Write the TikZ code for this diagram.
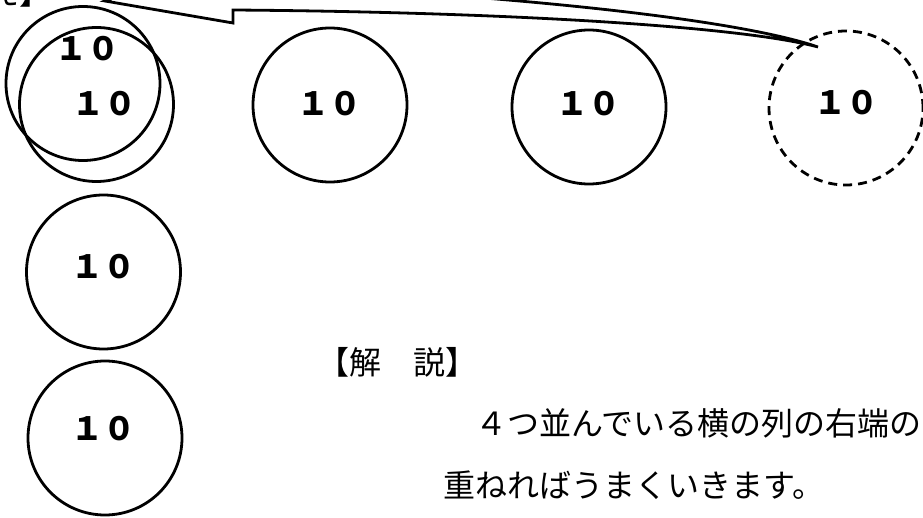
\documentclass[tikz,border=0pt]{standalone}
\usepackage{fontspec}
\newfontfamily\jp{Noto Sans CJK JP}
\begin{document}
\begin{tikzpicture}[x=1pt,y=-1pt,
  ring/.style={circle, draw, line width=2.8pt, minimum size=154pt, inner sep=0pt},
  dring/.style={ring, dash pattern=on 9pt off 6pt},
  num/.style={font=\jp\bfseries\fontsize{32}{32}\selectfont, inner sep=0pt},
  txt/.style={font=\jp\fontsize{32}{40}\selectfont, inner sep=0pt, anchor=base west},
  arrowshape/.style={draw, line width=2.8pt, line join=miter}]
\useasboundingbox (0,0) rectangle (923,518);
\clip (0,0) rectangle (923,518);
% heading partly cut off at top
\node[txt, anchor=base east] (head) at (52,4.5) {【答え】};
% circles
\node[ring] (a) at (83,83.5) {};
\node[ring] (b) at (96.5,104.5) {};
\node[ring] (c) at (330,105) {};
\node[ring] (d) at (589,107) {};
\node[dring] (e) at (846,108) {};
\node[ring] (f) at (103.5,272) {};
\node[ring] (g) at (105,438) {};
% numbers
\node[num] (ta) at (87,49) {１０};
\node[num] (tb) at (104,104) {１０};
\node[num] (tc) at (329,103.5) {１０};
\node[num] (td) at (588,103.5) {１０};
\node[num] (te) at (846,103) {１０};
\node[num] (tf) at (103,266.5) {１０};
\node[num] (tg) at (103,428.5) {１０};
% hollow curved arrow from the dashed circle to the top-left
\coordinate (tail) at (818,47);
\path[arrowshape] (105,1) -- (233,23) -- (233,10)
  .. controls (500,12) and (740,26) .. (tail)
  .. controls (760,27) and (600,0) .. (233,-18)
  -- (233,-45) -- cycle;
% explanation
\node[txt, anchor=base] (kai) at (397,374) {【解　説】};
\node[txt] (l1) at (443,435) {　４つ並んでいる横の列の右端の};
\node[txt] (l2) at (443,497) {重ねればうまくいきます。};
\end{tikzpicture}
\end{document}
